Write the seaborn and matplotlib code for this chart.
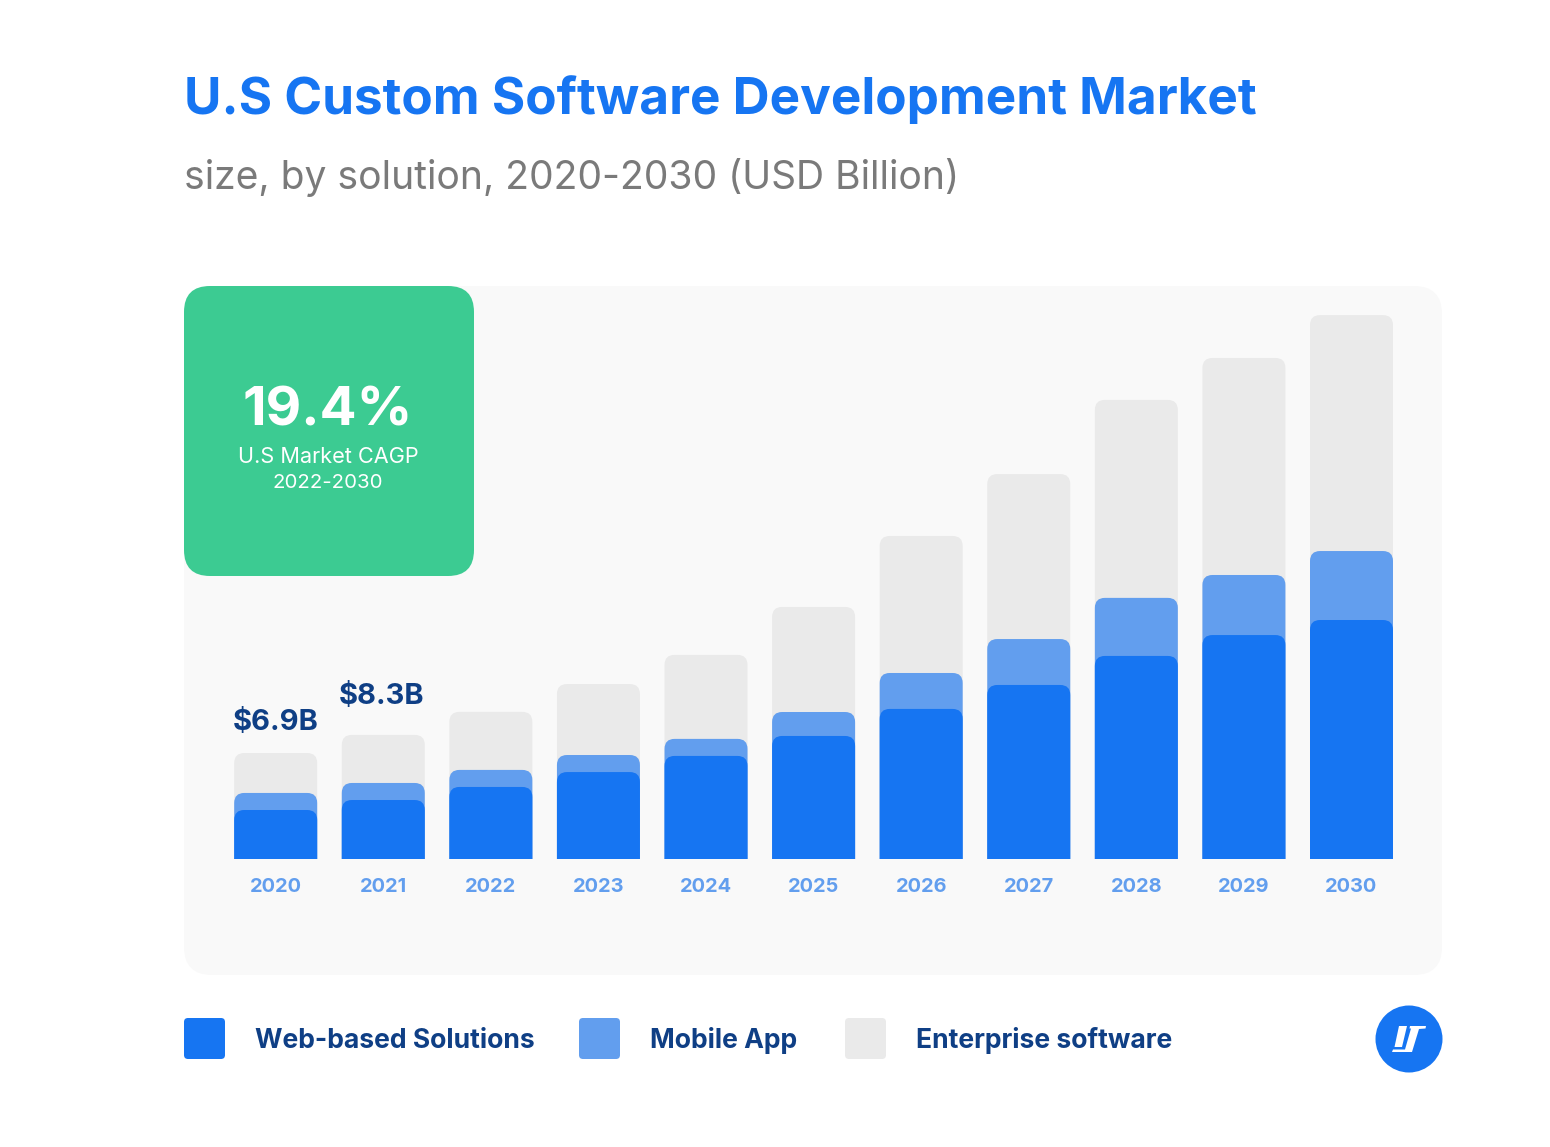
import matplotlib
matplotlib.use("Agg")
import matplotlib.pyplot as plt
import numpy as np
import pandas as pd
import seaborn as sns
from matplotlib.patches import BoxStyle, Circle, FancyBboxPatch, PathPatch, Polygon, Rectangle
from matplotlib.transforms import IdentityTransform

# values in USD billion
years = ["2020", "2021", "2022", "2023", "2024", "2025", "2026", "2027", "2028", "2029", "2030"]
web_based = [3.19, 3.84, 4.69, 5.66, 6.71, 8.01, 9.77, 11.33, 13.22, 14.58, 15.56]
mobile_app = [1.11, 1.11, 1.11, 1.11, 1.11, 1.56, 2.34, 2.99, 3.78, 3.91, 4.49]
enterprise = [2.60, 3.13, 3.78, 4.62, 5.47, 6.84, 8.92, 10.74, 12.89, 14.13, 15.36]
bar_labels = {"2020": "$6.9B", "2021": "$8.3B"}
legend_labels = ["Web-based Solutions", "Mobile App", "Enterprise software"]

BLUE = "#1675F2"
MID_BLUE = "#629EEE"
GREY = "#EAEAEA"
NAVY = "#0F3F85"
PANEL = "#F9F9F9"
GREEN = "#3CCB92"
FONT = "Inter"
W, H = 1550, 1147

sns.set_theme(style="white")
plt.rcParams["font.family"] = [FONT, "DejaVu Sans"]
plt.rcParams["text.parse_math"] = False

fig = plt.figure(figsize=(W / 100, H / 100), dpi=100, facecolor="white")

# full-figure layer in pixel coordinates for the cards and text
bg = fig.add_axes([0, 0, 1, 1], zorder=0)
bg.set_xlim(0, W)
bg.set_ylim(H, 0)
bg.axis("off")


def card(ax, x, y, w, h, r, color, zorder=1):
    ax.add_patch(FancyBboxPatch((x + r, y + r), w - 2 * r, h - 2 * r,
                                boxstyle=f"round,pad={r},rounding_size={r}",
                                fc=color, ec="none", zorder=zorder))


card(bg, 184, 286, 1258, 689, 28, PANEL)

df = pd.DataFrame({"year": years, "web": web_based, "mobile": mobile_app, "enterprise": enterprise})
df["web_mobile"] = df["web"] + df["mobile"]
df["total"] = df["web_mobile"] + df["enterprise"]

# plot area: 2020 to 2030 bar centres, baseline at y=859
first_c, last_c = 275.7, 1351.5
step = (last_c - first_c) / 10
left = first_c - step / 2
right = last_c + step / 2
top, bottom = 290, 859
ax = fig.add_axes([left / W, 1 - bottom / H, (right - left) / W, (bottom - top) / H], zorder=1)
ax.patch.set_alpha(0)

bar_w = 83 / step
for col, color in [("total", GREY), ("web_mobile", MID_BLUE), ("web", BLUE)]:
    sns.barplot(data=df, x="year", y=col, color=color, width=bar_w, saturation=1, ax=ax, zorder=2)

ax.set_xlim(-0.5, len(years) - 0.5)
ax.set_ylim(0, (bottom - top) / 15.36)
ax.set_xlabel("")
ax.set_ylabel("")
ax.set_yticks([])
ax.tick_params(axis="x", length=0, pad=14)
ax.set_xticks(range(len(years)), years, fontsize=14.4, fontweight="bold", color=MID_BLUE)
sns.despine(ax=ax, left=True, bottom=True)

# swap the plain bars for ones with rounded top corners
fig.canvas.draw()
base_clip = Rectangle((0, 0), 1, 1, transform=ax.transAxes)
for bar in list(ax.patches):
    x0, y0 = ax.transData.transform((bar.get_x(), bar.get_y()))
    x1, y1 = ax.transData.transform((bar.get_x() + bar.get_width(), bar.get_y() + bar.get_height()))
    outline = BoxStyle("Round", pad=0, rounding_size=10)(x0, y0 - 20, x1 - x0, y1 - y0 + 20, 1)
    rounded = PathPatch(outline, fc=bar.get_facecolor(), ec="none", transform=IdentityTransform(),
                        zorder=bar.get_zorder() + len(ax.patches))
    ax.add_patch(rounded)
    rounded.set_clip_path(base_clip)
    bar.set_visible(False)

# value labels over the first two bars
for year, y_px in [("2020", 722.5), ("2021", 696.5)]:
    cx = first_c + step * years.index(year)
    bg.text(cx - (0.5 if year == "2020" else 2), y_px, bar_labels[year], ha="center", va="center",
            fontsize=21, fontweight="bold", color=NAVY, zorder=5)

# titles
bg.text(184, 114, "U.S Custom Software Development Market", ha="left", va="baseline",
        fontsize=36.9, fontweight="bold", color=BLUE)
bg.text(184, 189, "size, by solution, 2020-2030 (USD Billion)", ha="left", va="baseline",
        fontsize=28.1, color="#7A7A7A")

# CAGR card, above the bars
top_layer = fig.add_axes([0, 0, 1, 1], zorder=3)
top_layer.set_xlim(0, W)
top_layer.set_ylim(H, 0)
top_layer.axis("off")
card(top_layer, 184, 286, 290, 290, 26, GREEN)
top_layer.text(328, 425, "19.4%", ha="center", va="baseline", fontsize=39.5, fontweight="bold", color="white")
top_layer.text(328, 463, "U.S Market CAGP", ha="center", va="baseline", fontsize=15.6, color="white")
top_layer.text(328, 488, "2022-2030", ha="center", va="baseline", fontsize=14.7, color="white")

# legend
for x, color, tx, label in zip([184, 579, 845], [BLUE, MID_BLUE, GREY], [255, 650, 916], legend_labels):
    card(top_layer, x, 1018, 41, 41, 4, color)
    top_layer.text(tx, 1048, label, ha="left", va="baseline", fontsize=19.1, fontweight="bold", color=NAVY)

# logo
top_layer.add_patch(Circle((1409, 1039), 33.5, fc=BLUE, ec="none"))
top_layer.add_patch(Polygon([(1399, 1026), (1407, 1026), (1402, 1047), (1394.5, 1047)], fc="white", ec="none"))
top_layer.add_patch(Polygon([(1410, 1026), (1426, 1026), (1425.5, 1028.5), (1419, 1029), (1412, 1052),
                             (1392, 1052), (1393, 1049.5), (1405, 1049.5), (1411, 1028.5), (1409.5, 1028.5)],
                            fc="white", ec="none"))

fig.savefig("out.png", dpi=100, facecolor="white")
